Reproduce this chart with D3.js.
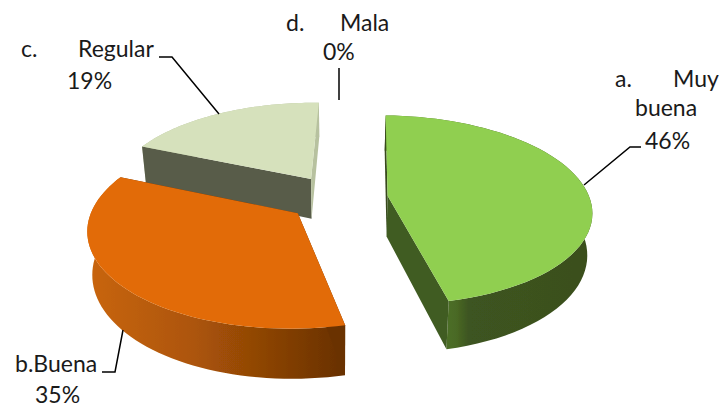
<!DOCTYPE html>
<html>
<head>
<meta charset="utf-8">
<script src="https://cdn.jsdelivr.net/npm/d3@7"></script>
<style>
html,body{margin:0;padding:0;background:#fff}
svg{display:block}
text{font-family:Lato,"Open Sans",sans-serif;font-size:23px;fill:#1a1a1a}
</style>
</head>
<body>
<svg id="chart" width="721" height="407"></svg>
<script>
// Survey results
const categories = ["a. Muy buena", "b.Buena", "c. Regular", "d. Mala"];
const shares = [46, 35, 19, 0];

// Slice colours: top face, starting radial wall, ending radial wall
const topColors = ["#90cf50", "#e26b08", "#d6e1bc", "#b9cde5"];
const startWallColors = ["#37491d", "#6b3200", "#585b49", "#8a9ab0"];
const endWallColors = ["#3f5b21", "#6b3200", "#b7c19f", "#8a9ab0"];

// Pie projection: tilted disc with perspective
const view = {
  cx: 337.5, cy: 198, rx: 202, ry: 93, persp: 0.15, explode: 0.25,
  depth: 41, baseX: 0.98, baseY: 1.07, rotation: 1.5 * Math.PI / 180
};

const svg = d3.select("#chart");
const defs = svg.append("defs");

const pieLayout = d3.pie().sort(null).value(d => d)
  .startAngle(view.rotation).endAngle(2 * Math.PI + view.rotation);
const arcs = pieLayout(shares);

// Projects a point on the unit disc to the top face of the pie
function project(u, v) {
  const s = 1 / (1 + view.persp * v);
  return [view.cx + view.rx * u * s, view.cy - view.ry * v * s];
}
// Drops a top-face point onto the bottom face
function lower(p) {
  return [
    view.cx + (p[0] - view.cx) * view.baseX,
    view.cy + view.depth + (p[1] - view.cy) * view.baseY
  ];
}

function sliceGeometry(a) {
  const mid = (a.startAngle + a.endAngle) / 2;
  const ou = view.explode * Math.sin(mid), ov = view.explode * Math.cos(mid);
  const apex = project(ou, ov);
  const rim = d3.range(0, 61).map(i => {
    const t = a.startAngle + (a.endAngle - a.startAngle) * i / 60;
    return project(ou + Math.sin(t), ov + Math.cos(t));
  });
  return { apex, rim };
}

const line = d3.line();
const closed = pts => line(pts) + "Z";

// Side shading of the outer walls
function wallGradient(id, x1, x2, stops) {
  const g = defs.append("linearGradient").attr("id", id)
    .attr("gradientUnits", "userSpaceOnUse")
    .attr("x1", x1).attr("x2", x2).attr("y1", 0).attr("y2", 0);
  stops.forEach(s => g.append("stop").attr("offset", s[0]).attr("stop-color", s[1]));
}
wallGradient("wall0", 440, 600, [[0, "#4f7228"], [0.1, "#4a6a25"], [0.18, "#3d5420"], [1, "#3a4f1e"]]);
wallGradient("wall1", 90, 346, [[0, "#c8650a"], [0.4, "#ad5508"], [0.7, "#8a4305"], [1, "#673000"]]);
wallGradient("wall2", 140, 320, [[0, "#b7c19f"], [1, "#b7c19f"]]);

defs.append("filter").attr("id", "soft")
  .attr("x", "-5%").attr("y", "-5%").attr("width", "110%").attr("height", "110%")
  .append("feGaussianBlur").attr("stdDeviation", 0.7);

// Far slices first so that nearer ones overlap them
const drawOrder = [2, 1, 0];
drawOrder.forEach(i => {
  const a = arcs[i];
  if (a.value === 0) return;
  const { apex, rim } = sliceGeometry(a);
  const first = rim[0], last = rim[rim.length - 1];
  const g = svg.append("g").attr("class", "slice");
  const walls = g.append("g").attr("filter", "url(#soft)");

  walls.append("path")
    .attr("d", closed(rim.concat(rim.map(lower).reverse())))
    .attr("fill", `url(#wall${i})`);
  walls.append("path")
    .attr("d", closed([apex, first, lower(first), lower(apex)]))
    .attr("fill", startWallColors[i]);
  walls.append("path")
    .attr("d", closed([apex, last, lower(last), lower(apex)]))
    .attr("fill", endWallColors[i]);

  g.append("path")
    .attr("d", closed([apex].concat(rim)))
    .attr("fill", topColors[i]);
});

// Leader lines from the labels to their slices
const leaders = [
  [[641, 147], [630, 147], [584, 185]],
  [[102, 372], [115, 372], [123, 330]],
  [[159, 57], [172, 57], [219, 114]],
  [[339, 68], [339, 100]]
];
svg.append("g").selectAll("path").data(leaders).join("path")
  .attr("d", d => line(d))
  .attr("fill", "none").attr("stroke", "#000").attr("stroke-width", 1.5);

// Labels broken over lines as in a wrapped data label
const labelRuns = [
  [["a.", 615, 87], ["Muy", 673, 87], ["buena", 635, 116], [shares[0] + "%", 645, 149]],
  [["b.Buena", 15, 372], [shares[1] + "%", 35, 403]],
  [["c.", 21, 57], ["Regular", 78, 57], [shares[2] + "%", 67, 89]],
  [["d.", 286, 31], ["Mala", 340, 31], [shares[3] + "%", 323, 60]]
];
svg.append("g").selectAll("text").data(labelRuns.flat()).join("text")
  .attr("x", d => d[1]).attr("y", d => d[2]).text(d => d[0]);
</script>
</body>
</html>
